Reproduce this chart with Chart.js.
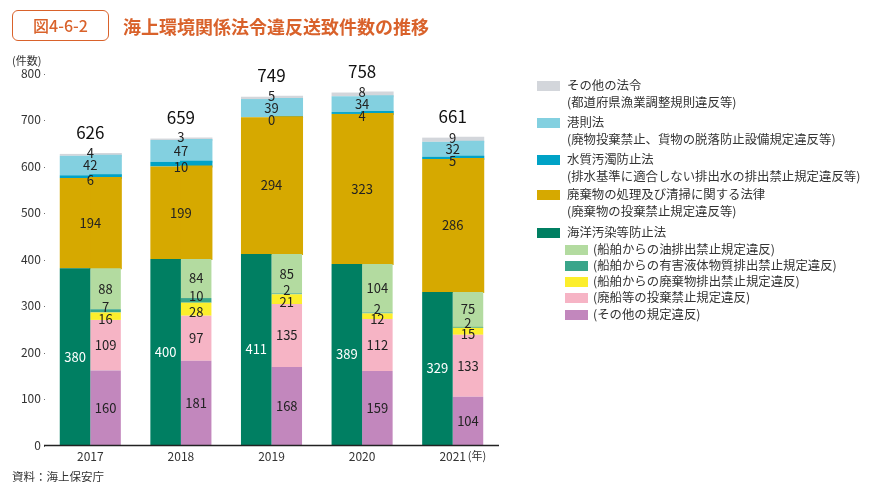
<!DOCTYPE html>
<html lang="ja">
<head>
<meta charset="UTF-8">
<title>海上環境関係法令違反送致件数の推移</title>
<script src="https://cdn.jsdelivr.net/npm/chart.js"></script>
<style>
  body { margin: 0; background: #fff; font-family: "Noto Sans CJK JP", "Noto Sans", sans-serif; color: #333; }
  #wrap { position: relative; width: 871px; height: 494px; overflow: hidden; }
  #chartBox { position: absolute; left: 0; top: 0; width: 871px; height: 494px; }
  .figno { position: absolute; left: 12px; top: 10px; width: 95px; height: 29px; border: 1.5px solid #d9622b; border-radius: 6px;
           color: #d9622b; font-size: 16px; line-height: 29px; text-align: center; font-weight: 500; }
  .title { position: absolute; left: 123px; top: 14px; color: #d9622b; font-size: 18px; font-weight: 700; line-height: 24px; }
  .unit { position: absolute; left: 12px; top: 52px; font-size: 11px; color: #333; }
  .source { position: absolute; left: 12px; top: 468px; font-size: 11.5px; color: #333; }
  .lg { position: absolute; font-size: 12.4px; line-height: 17px; color: #333; white-space: nowrap; }
  .sw { position: absolute; width: 23px; height: 10px; }
</style>
</head>
<body>
<div id="wrap">
  <div id="chartBox"><canvas id="c"></canvas></div>
  <div class="figno">図4-6-2</div>
  <div class="title">海上環境関係法令違反送致件数の推移</div>
  <div class="unit">(件数)</div>
  <div class="source">資料：海上保安庁</div>
  <div id="legend"></div>
</div>
<script>
const years = ['2017', '2018', '2019', '2020', '2021'];

// 海洋汚染等防止法 (total) and its breakdown
const marinePollution = [380, 400, 411, 389, 329];
const oilDischarge = [88, 84, 85, 104, 75];
const harmfulLiquid = [7, 10, 2, 2, 2];
const wasteDischarge = [16, 28, 21, 12, 15];
const shipDumping = [109, 97, 135, 112, 133];
const otherViolation = [160, 181, 168, 159, 104];

// other laws stacked on top
const wasteLaw = [194, 199, 294, 323, 286];
const waterPollution = [6, 10, 0, 4, 5];
const portLaw = [42, 47, 39, 34, 32];
const otherLaws = [4, 3, 5, 8, 9];

const yTicks = [0, 100, 200, 300, 400, 500, 600, 700, 800];

const colors = {
    otherLaws: '#d3d6db',
    portLaw: '#83d0e0',
    waterPollution: '#00a2c6',
    wasteLaw: '#d6a900',
    marinePollution: '#007f62',
    oilDischarge: '#b3dba0',
    harmfulLiquid: '#3aa58a',
    wasteDischarge: '#fcee2c',
    shipDumping: '#f6b4c5',
    otherViolation: '#c287bd'
};

const totals = years.map((y, i) => marinePollution[i] + wasteLaw[i] + waterPollution[i] + portLaw[i] + otherLaws[i]);

function bar(label, data, color, stack, extra) {
    return Object.assign({
        label: label,
        data: data,
        backgroundColor: color,
        borderWidth: 0,
        borderSkipped: false,
        stack: stack,
        barPercentage: 1,
        categoryPercentage: 0.674
    }, extra || {});
}

// the upper laws span the full width: each is drawn in both half-stacks,
// labelled once (on the right half, shifted to the centre)
function upper(label, data, color, extra) {
    return [
        bar(label, data, color, 'L', { noLabel: true }),
        bar(label, data, color, 'R', Object.assign({ centre: true, inflateAmount: 1 }, extra || {}))
    ];
}

const datasets = [
    bar('海洋汚染等防止法', marinePollution, colors.marinePollution, 'L', { lblColor: '#fff' }),
    bar('(その他の規定違反)', otherViolation, colors.otherViolation, 'R'),
    bar('(廃船等の投棄禁止規定違反)', shipDumping, colors.shipDumping, 'R'),
    bar('(船舶からの廃棄物排出禁止規定違反)', wasteDischarge, colors.wasteDischarge, 'R', { lblDy: 3 }),
    bar('(船舶からの有害液体物質排出禁止規定違反)', harmfulLiquid, colors.harmfulLiquid, 'R', { lblDy: -4 }),
    bar('(船舶からの油排出禁止規定違反)', oilDischarge, colors.oilDischarge, 'R'),
    ...upper('廃棄物の処理及び清掃に関する法律', wasteLaw, colors.wasteLaw),
    ...upper('水質汚濁防止法', waterPollution, colors.waterPollution, { lblDy: 3 }),
    ...upper('港則法', portLaw, colors.portLaw),
    ...upper('その他の法令', otherLaws, colors.otherLaws, { lblDy: -2, isTop: true })
];

const labelPlugin = {
    id: 'labels',
    afterDatasetsDraw(chart) {
        const ctx = chart.ctx;
        const area = chart.chartArea;
        const leftMeta = chart.getDatasetMeta(0);
        ctx.save();
        // base line
        ctx.strokeStyle = '#222';
        ctx.lineWidth = 1.5;
        ctx.beginPath();
        ctx.moveTo(44, area.bottom + 0.5);
        ctx.lineTo(area.right + 1, area.bottom + 0.5);
        ctx.stroke();

        ctx.textAlign = 'center';
        ctx.textBaseline = 'middle';
        chart.data.datasets.forEach((ds, di) => {
            if (ds.noLabel) return;
            const meta = chart.getDatasetMeta(di);
            meta.data.forEach((el, i) => {
                const x = ds.centre ? (el.x + leftMeta.data[i].x) / 2 : el.x;
                const cy = (el.y + el.base) / 2 + (ds.lblDy || 0);
                ctx.fillStyle = ds.lblColor || '#222';
                ctx.font = '13px "Noto Sans CJK JP", "Noto Sans", sans-serif';
                ctx.fillText(String(ds.data[i]), x, cy);
                if (ds.isTop) {
                    ctx.fillStyle = '#111';
                    ctx.font = '17px "Noto Sans CJK JP", "Noto Sans", sans-serif';
                    ctx.fillText(String(totals[i]), x, el.y - 21);
                }
            });
        });
        // (年) after last year label
        const xs = chart.scales.x;
        ctx.fillStyle = '#333';
        ctx.font = '11px "Noto Sans CJK JP", sans-serif';
        ctx.textAlign = 'left';
        ctx.fillText('(年)', xs.getPixelForValue(years.length - 1) + 15, area.bottom + 11);
        ctx.restore();
    }
};

new Chart(document.getElementById('c'), {
    type: 'bar',
    data: { labels: years, datasets: datasets },
    options: {
        responsive: true,
        maintainAspectRatio: false,
        animation: false,
        layout: { padding: { top: 73, right: 373, left: 0, bottom: 0 } },
        plugins: { legend: { display: false }, tooltip: { enabled: false } },
        scales: {
            x: {
                stacked: true,
                offset: true,
                grid: { display: false, drawTicks: false },
                border: { display: false },
                ticks: { color: '#333', font: { size: 12, family: '"Noto Sans CJK JP", "Noto Sans", sans-serif' }, padding: 4, maxRotation: 0 },
                afterFit(s) { s.height = 49; }
            },
            y: {
                stacked: true,
                min: 0,
                max: 800,
                grid: { display: false, drawTicks: false },
                border: { display: false },
                afterBuildTicks(s) { s.ticks = yTicks.map(v => ({ value: v })); },
                ticks: {
                    color: '#333',
                    padding: -5,
                    font: { size: 12, family: '"Noto Sans CJK JP", "Noto Sans", sans-serif' },
                    callback: v => v + ' –'
                },
                afterFit(s) { s.width = 45; }
            }
        }
    },
    plugins: [labelPlugin]
});

// legend
const legendItems = [
    { color: colors.otherLaws, lines: ['その他の法令', '(都道府県漁業調整規則違反等)'], y: 86, sub: false },
    { color: colors.portLaw, lines: ['港則法', '(廃物投棄禁止、貨物の脱落防止設備規定違反等)'], y: 123, sub: false },
    { color: colors.waterPollution, lines: ['水質汚濁防止法', '(排水基準に適合しない排出水の排出禁止規定違反等)'], y: 160, sub: false },
    { color: colors.wasteLaw, lines: ['廃棄物の処理及び清掃に関する法律', '(廃棄物の投棄禁止規定違反等)'], y: 195, sub: false },
    { color: colors.marinePollution, lines: ['海洋汚染等防止法'], y: 233, sub: false },
    { color: colors.oilDischarge, lines: ['(船舶からの油排出禁止規定違反)'], y: 250, sub: true },
    { color: colors.harmfulLiquid, lines: ['(船舶からの有害液体物質排出禁止規定違反)'], y: 266, sub: true },
    { color: colors.wasteDischarge, lines: ['(船舶からの廃棄物排出禁止規定違反)'], y: 282, sub: true },
    { color: colors.shipDumping, lines: ['(廃船等の投棄禁止規定違反)'], y: 298, sub: true },
    { color: colors.otherViolation, lines: ['(その他の規定違反)'], y: 315, sub: true }
];
const lg = document.getElementById('legend');
legendItems.forEach(it => {
    const sw = document.createElement('div');
    sw.className = 'sw';
    sw.style.background = it.color;
    sw.style.left = (it.sub ? 565 : 537) + 'px';
    sw.style.top = (it.y - 5) + 'px';
    lg.appendChild(sw);
    const t = document.createElement('div');
    t.className = 'lg';
    t.style.left = (it.sub ? 593 : 567) + 'px';
    t.style.top = (it.y - 9) + 'px';
    t.innerHTML = it.lines.join('<br>');
    lg.appendChild(t);
});
</script>
</body>
</html>
